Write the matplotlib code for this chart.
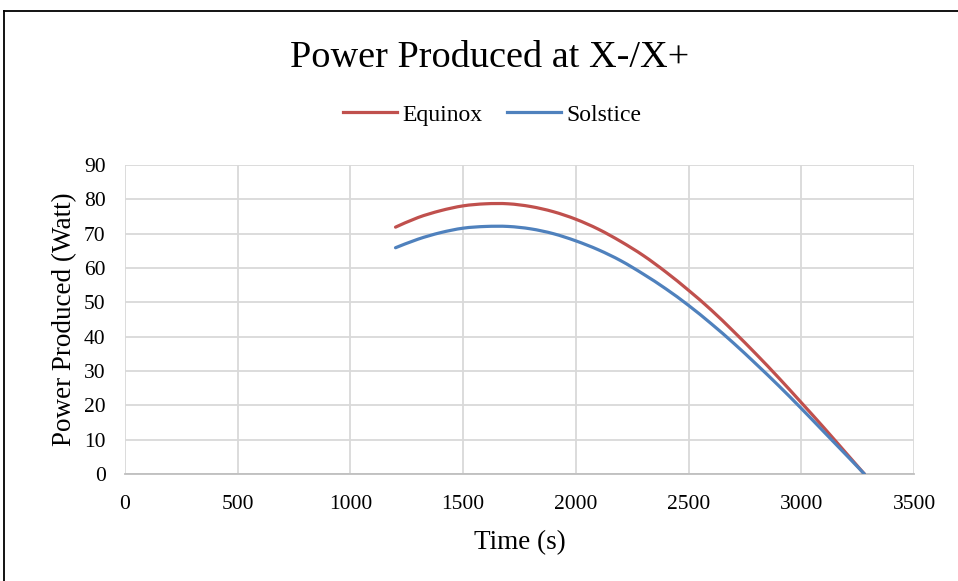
import matplotlib
matplotlib.use("Agg")
import matplotlib.pyplot as plt
from matplotlib.lines import Line2D
from matplotlib.path import Path
from matplotlib.patches import PathPatch

# Time (s) and power (W)
time_s = [1200, 1300, 1400, 1500, 1600, 1700, 1800, 1900, 2000, 2100, 2200,
          2300, 2400, 2500, 2600, 2700, 2800, 2900, 3000, 3100, 3200, 3280]
equinox = [71.9, 74.7, 76.7, 78.1, 78.7, 78.7, 77.9, 76.4, 74.2, 71.3, 67.7,
           63.6, 58.8, 53.5, 47.8, 41.5, 34.9, 28.0, 20.8, 13.5, 6.0, 0.0]
solstice = [65.9, 68.4, 70.3, 71.6, 72.1, 72.1, 71.4, 70.0, 67.9, 65.3, 62.1,
            58.2, 53.9, 49.1, 43.8, 38.1, 32.0, 25.7, 19.1, 12.3, 5.5, 0.0]

x_ticks = [0, 500, 1000, 1500, 2000, 2500, 3000, 3500]
y_ticks = [0, 10, 20, 30, 40, 50, 60, 70, 80, 90]

RED = "#C0504D"
BLUE = "#4F81BD"
GRID = "#D9D9D9"
LW = 2.3


def smooth_path(xs, ys):
    """Excel-style smoothed line: Catmull-Rom segments as cubic Beziers."""
    pts = list(zip(xs, ys))
    verts = [pts[0]]
    codes = [Path.MOVETO]
    n = len(pts)
    for i in range(n - 1):
        p0 = pts[i - 1] if i > 0 else pts[i]
        p1 = pts[i]
        p2 = pts[i + 1]
        p3 = pts[i + 2] if i + 2 < n else pts[i + 1]
        c1 = (p1[0] + (p2[0] - p0[0]) / 6, p1[1] + (p2[1] - p0[1]) / 6)
        c2 = (p2[0] - (p3[0] - p1[0]) / 6, p2[1] - (p3[1] - p1[1]) / 6)
        verts += [c1, c2, p2]
        codes += [Path.CURVE4] * 3
    return Path(verts, codes)


plt.rcParams["font.family"] = ["Liberation Serif", "DejaVu Serif"]

W, H = 958, 581
fig = plt.figure(figsize=(W / 100, H / 100), dpi=100)
ax = fig.add_axes([125 / W, 1 - 474 / H, (914 - 125) / W, (474 - 165) / H])

for ys, col in [(equinox, RED), (solstice, BLUE)]:
    ax.add_patch(PathPatch(smooth_path(time_s, ys), facecolor="none",
                           edgecolor=col, lw=LW, capstyle="round", zorder=3))

ax.set_xlim(0, 3500)
ax.set_ylim(0, 90)
ax.set_xticks(x_ticks)
ax.set_yticks(y_ticks)
ax.tick_params(length=0, labelsize=15.5, colors="black")
ax.tick_params(axis="x", pad=15)
ax.tick_params(axis="y", pad=14)
ax.grid(True, color=GRID, lw=1.3)
ax.set_axisbelow(True)
for side in ["top", "right", "left"]:
    ax.spines[side].set_visible(False)
ax.spines["bottom"].set_color("#BFBFBF")
ax.spines["bottom"].set_linewidth(1.3)

ax.set_xlabel("Time (s)", fontsize=19.5, labelpad=12)
ax.set_ylabel("Power Produced (Watt)", fontsize=19.5, labelpad=4.5)

fig.text(490 / W, 1 - 58 / H, "Power Produced at X-/X+", fontsize=27.5,
         ha="center", va="center")

handles = [Line2D([], [], color=RED, lw=LW), Line2D([], [], color=BLUE, lw=LW)]
fig.legend(handles, ["Equinox", "Solstice"], loc="center",
           bbox_to_anchor=(492 / W, 1 - 115 / H), ncol=2, frameon=False,
           fontsize=17, handlelength=2.3, handletextpad=0.2, columnspacing=1.05)

# chart frame (left and top edges only are inside the image)
fig.add_artist(Line2D([4 / W, 4 / W], [0, 1 - 11 / H], color="black", lw=1.3))
fig.add_artist(Line2D([4 / W, 1], [1 - 11 / H, 1 - 11 / H], color="black", lw=1.3))

fig.savefig("out.png", dpi=100)
